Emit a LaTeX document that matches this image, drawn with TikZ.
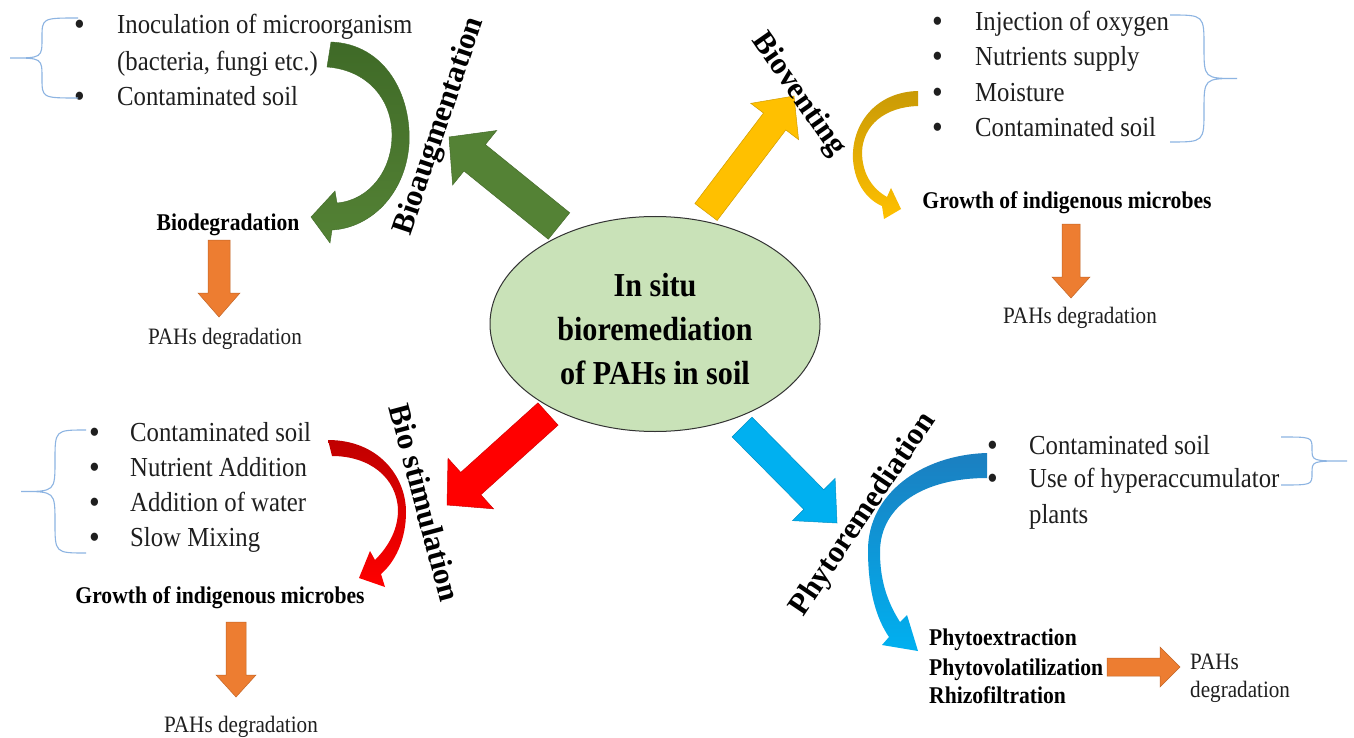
\documentclass[tikz,border=0pt]{standalone}
\usepackage{fontspec}
\setmainfont{Liberation Serif}[FakeStretch=0.9]
\newfontfamily\rotfont{Liberation Serif}
\usetikzlibrary{shapes.geometric,calc,backgrounds}
\definecolor{cgreen}{HTML}{548235}
\definecolor{cgreenD}{HTML}{3F6A27}
\definecolor{cyellow}{HTML}{FFC000}
\definecolor{cgold}{HTML}{C99A06}
\definecolor{cred}{HTML}{FF0000}
\definecolor{credD}{HTML}{C00000}
\definecolor{cblue}{HTML}{00B0F0}
\definecolor{cblueD}{HTML}{1B7FC0}
\definecolor{corange}{HTML}{ED7D31}
\definecolor{cell}{HTML}{C9E2B8}
\definecolor{cbrace}{HTML}{8DB4E2}
\newcommand\blockarrow[6]{%
  \coordinate (#1h) at ($(#2)!#6!(#1)$);
  \filldraw[fill=#3, draw=#3!82!black, line width=0.5pt]
    ($(#1)!#4!90:(#2)$) -- ($(#1h)!#4!90:(#2)$) -- ($(#1h)!#5!90:(#2)$) -- (#2)
    -- ($(#1h)!#5!-90:(#2)$) -- ($(#1h)!#4!-90:(#2)$) -- ($(#1)!#4!-90:(#2)$) -- cycle;}
\newcommand\cbrace[5]{%
  \pgfmathsetmacro\bym{(#2+#3)/2}\pgfmathsetmacro\bR{(#3-#2)/4}%
  \draw[bracestyle] (#1,#2) .. controls (#4,#2) .. (#4,#2+\bR) -- (#4,\bym-\bR)
    .. controls (#4,\bym) .. (#5,\bym) .. controls (#4,\bym) .. (#4,\bym+\bR)
    -- (#4,#3-\bR) .. controls (#4,#3) .. (#1,#3);}
\tikzset{
  txt/.style={inner sep=0pt, anchor=west, font=\fontsize{27.5}{33}\selectfont, text height=18pt, text depth=0pt, text=black!88},
  bul/.style={txt, font=\fontsize{34}{36}\selectfont, text height=22pt},
  btxt/.style={inner sep=0pt, font=\fontsize{24}{29}\selectfont\bfseries, text height=16pt, text depth=0pt},
  ptxt/.style={inner sep=0pt, font=\fontsize{23.5}{28}\selectfont, text height=15.5pt, text depth=0pt, text=black!88},
  rotlab/.style={inner sep=0pt, font=\rotfont\fontsize{31}{36}\selectfont\bfseries, text height=21pt, text depth=0pt},
  bracestyle/.style={draw=cbrace, line width=1.1pt},
}
\begin{document}
\begin{tikzpicture}[x=1pt,y=-1pt]
\useasboundingbox (0,0) rectangle (1354,738);
% central ellipse
\node[ellipse, draw=black!80, line width=1pt, fill=cell, minimum width=330pt, minimum height=215pt, inner sep=0pt] (ell) at (655,324) {};
\node[align=center, inner sep=0pt, font=\fontsize{33.5}{44}\selectfont\bfseries] (elltxt) at (655,329) {In situ\\bioremediation\\of PAHs in soil};
\begin{pgfonlayer}{background}
\fill[white] (0,0) rectangle (1354,738);
% big arrows out of the ellipse
\coordinate (gT) at (559,226); \coordinate (gP) at (449,137);
\blockarrow{gT}{gP}{cgreen}{17pt}{35pt}{33pt}
\coordinate (yT) at (706,212); \coordinate (yP) at (794,96);
\blockarrow{yT}{yP}{cyellow}{14pt}{30pt}{32pt}
\coordinate (rT) at (548,414); \coordinate (rP) at (447,505);
\blockarrow{rT}{rP}{cred}{15pt}{34pt}{32pt}
\coordinate (bT) at (742,427); \coordinate (bP) at (837,523);
\blockarrow{bT}{bP}{cblue}{14pt}{30pt}{33pt}
\end{pgfonlayer}
% rotated labels
\node[rotlab, rotate=71.3] (lbA) at (437,125) {Bioaugmentation};
\node[rotlab, rotate=-55] (lbV) at (801,93) {Bioventing};
\node[rotlab, rotate=-75] (lbS) at (425,503) {Bio stimulation};
\node[rotlab, rotate=56] (lbP) at (861,513) {Phytoremediation};
% ---- top left: bioaugmentation
\node[bul] (tl1b) at (74,25) {\textbullet};
\node[bul] (tl3b) at (74,97) {\textbullet};
\node[txt] (tl1) at (117,25) {Inoculation of microorganism};
\node[txt] (tl2) at (117,62) {(bacteria, fungi etc.)};
\node[txt] (tl3) at (117,97) {Contaminated soil};
\cbrace{78}{18}{98}{42}{10}
\shade[top color=cgreenD, bottom color=cgreen, draw=cgreenD, line width=0.4pt]
  (331,42) .. controls (385,44) and (412,95) .. (409,145) .. controls (405,195) and (370,228) .. (332,230)
  -- (330,243) -- (311,217) -- (335,191) -- (337,203)
  .. controls (370,200) and (392,170) .. (392,135) .. controls (392,100) and (368,70) .. (327,67) -- cycle;
\node[btxt] (biod) at (228,222) {Biodegradation};
\node[ptxt] (pah1) at (225,337) {PAHs degradation};
\coordinate (o1T) at (219,240); \coordinate (o1P) at (219,317);
\blockarrow{o1T}{o1P}{corange}{11pt}{21pt}{24pt}
% ---- top right: bioventing
\node[bul] (tr1b) at (932,22) {\textbullet};
\node[bul] (tr2b) at (932,57) {\textbullet};
\node[bul] (tr3b) at (932,93) {\textbullet};
\node[bul] (tr4b) at (932,128) {\textbullet};
\node[txt] (tr1) at (975,22) {Injection of oxygen};
\node[txt] (tr2) at (975,57) {Nutrients supply};
\node[txt] (tr3) at (975,93) {Moisture};
\node[txt] (tr4) at (975,128) {Contaminated soil};
\cbrace{1170}{15}{142}{1204}{1237}
\shade[top color=cgold, bottom color=cyellow]
  (918,91) .. controls (875,92) and (851,125) .. (853,160) .. controls (855,185) and (868,200) .. (882,206)
  -- (884,219) -- (901,209) -- (891,188) -- (887,197)
  .. controls (871,188) and (862,172) .. (862,152) .. controls (863,125) and (885,107) .. (918,106) -- cycle;
\node[btxt] (grw1) at (1067,200) {Growth of indigenous microbes};
\node[ptxt] (pah2) at (1080,316) {PAHs degradation};
\coordinate (o2T) at (1071,224); \coordinate (o2P) at (1071,298);
\blockarrow{o2T}{o2P}{corange}{9pt}{19pt}{21pt}
% ---- bottom left: biostimulation
\node[bul] (bl1b) at (89,432) {\textbullet};
\node[bul] (bl2b) at (89,467) {\textbullet};
\node[bul] (bl3b) at (89,502) {\textbullet};
\node[bul] (bl4b) at (89,537) {\textbullet};
\node[txt] (bl1) at (130,432) {Contaminated soil};
\node[txt] (bl2) at (130,467) {Nutrient Addition};
\node[txt] (bl3) at (130,502) {Addition of water};
\node[txt] (bl4) at (130,537) {Slow Mixing};
\cbrace{86}{430}{553}{55}{21}
\shade[top color=credD, bottom color=cred]
  (328,440) .. controls (378,440) and (406,476) .. (406,512) .. controls (406,540) and (395,562) .. (381,574)
  -- (385,587) -- (359,578) -- (370,551) -- (375,560)
  .. controls (390,545) and (398,528) .. (398,510) .. controls (397,478) and (370,456) .. (332,456) -- cycle;
\node[btxt] (grw2) at (220,595) {Growth of indigenous microbes};
\node[ptxt] (pah3) at (241,725) {PAHs degradation};
\coordinate (o3T) at (236,622); \coordinate (o3P) at (236,697);
\blockarrow{o3T}{o3P}{corange}{10pt}{20pt}{22pt}
% ---- bottom right: phytoremediation
\node[bul] (br1b) at (987,445) {\textbullet};
\node[bul] (br2b) at (987,478) {\textbullet};
\node[txt] (br1) at (1029,445) {Contaminated soil};
\node[txt] (br2) at (1029,478) {Use of hyperaccumulator};
\node[txt] (br3) at (1029,514) {plants};
\cbrace{1281}{437}{485}{1312}{1347}
\shade[top color=cblueD, bottom color=cblue]
  (987,453) .. controls (920,455) and (868,495) .. (868,550) .. controls (868,590) and (876,618) .. (889,637)
  -- (882,645) -- (918,651) -- (907,615) -- (900,622)
  .. controls (886,600) and (880,578) .. (880,552) .. controls (880,505) and (925,478) .. (987,478) -- cycle;
\node[btxt, anchor=west] (ph1) at (929,637) {Phytoextraction};
\node[btxt, anchor=west] (ph2) at (929,667) {Phytovolatilization};
\node[btxt, anchor=west] (ph3) at (929,695) {Rhizofiltration};
\node[ptxt, anchor=west] (pah4a) at (1190,662) {PAHs};
\node[ptxt, anchor=west] (pah4b) at (1190,690) {degradation};
\coordinate (o4T) at (1107,667); \coordinate (o4P) at (1180,667);
\blockarrow{o4T}{o4P}{corange}{9pt}{20pt}{20pt}
\end{tikzpicture}
\end{document}
